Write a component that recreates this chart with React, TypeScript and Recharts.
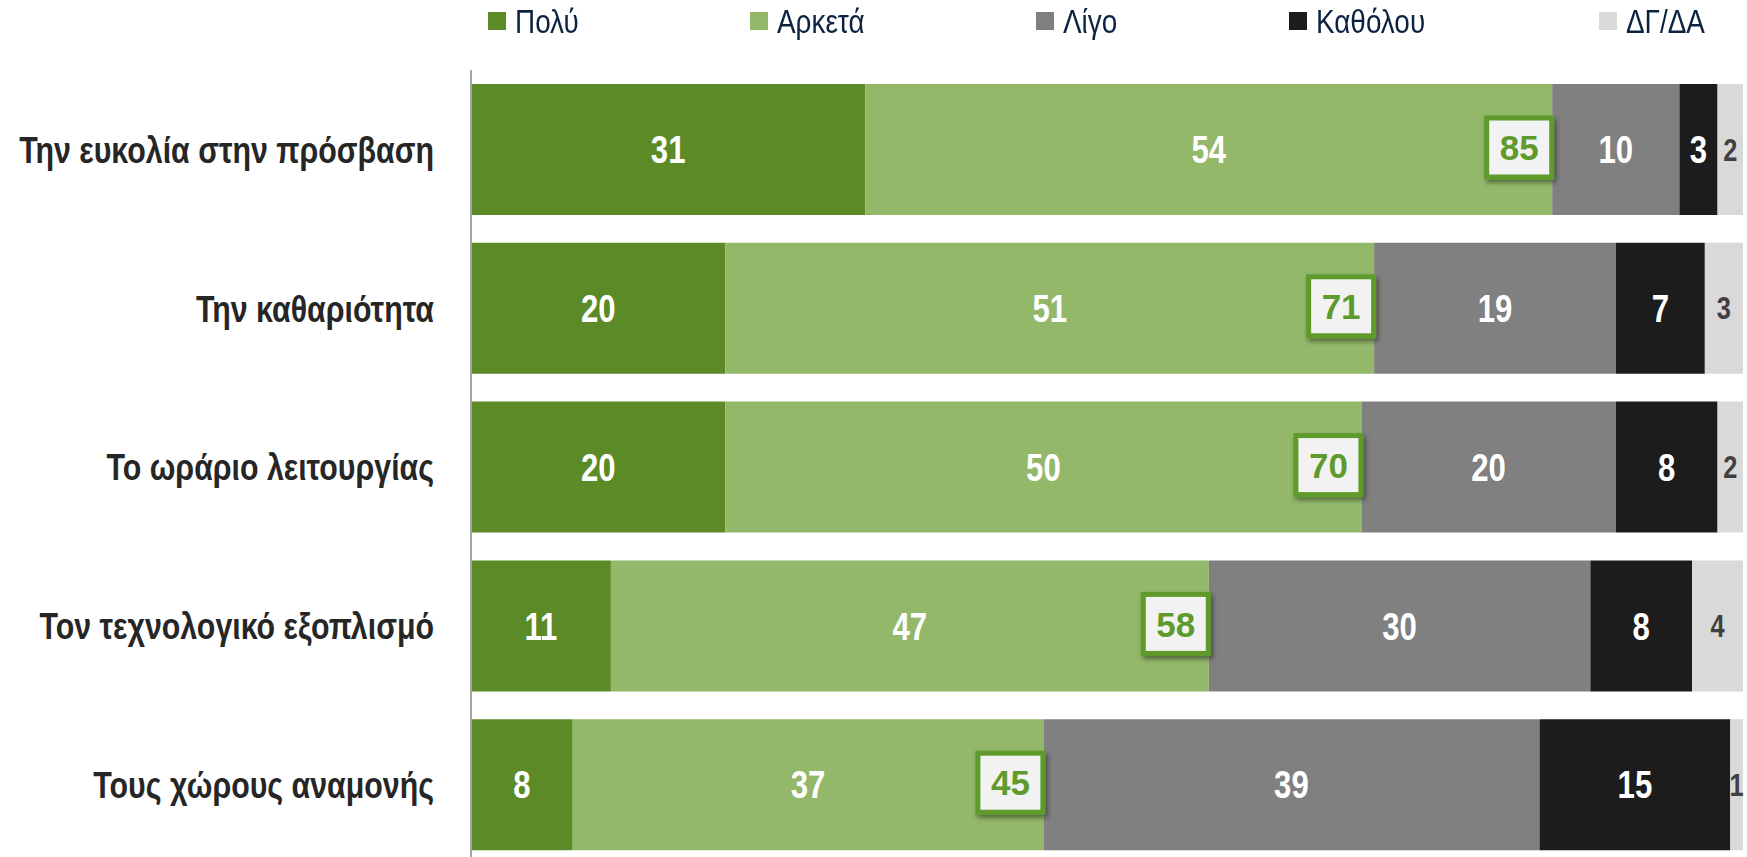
import React from 'react';
import { BarChart, Bar, XAxis, YAxis, Legend, LabelList } from 'recharts';

const categories = [
  'Την ευκολία στην πρόσβαση',
  'Την καθαριότητα',
  'Το ωράριο λειτουργίας',
  'Τον τεχνολογικό εξοπλισμό',
  'Τους χώρους αναμονής',
];
const poly = [31, 20, 20, 11, 8];
const arketa = [54, 51, 50, 47, 37];
const ligo = [10, 19, 20, 30, 39];
const katholou = [3, 7, 8, 8, 15];
const dgda = [2, 3, 2, 4, 1];
// Πολύ + Αρκετά, shown in the framed box
const total = [85, 71, 70, 58, 45];

const data = categories.map((name, i) => ({
  name,
  poly: poly[i],
  arketa: arketa[i],
  ligo: ligo[i],
  katholou: katholou[i],
  dgda: dgda[i],
  total: total[i],
}));

const series = [
  { key: 'poly', name: 'Πολύ', color: '#5b8a27', text: '#ffffff', size: 38 },
  { key: 'arketa', name: 'Αρκετά', color: '#93b86a', text: '#ffffff', size: 38 },
  { key: 'ligo', name: 'Λίγο', color: '#808080', text: '#ffffff', size: 38 },
  { key: 'katholou', name: 'Καθόλου', color: '#1c1c1c', text: '#ffffff', size: 38 },
  { key: 'dgda', name: 'ΔΓ/ΔΑ', color: '#d9d9d9', text: '#404040', size: 31 },
];

// legend entries are not evenly spaced in the original
const legendLeft = [488, 750, 1036, 1289, 1599];

const FONT = "'Liberation Sans', Arial, sans-serif";
const NARROW = 0.82; // horizontal squeeze to mimic Arial Narrow
const BOX_GREEN = '#5f9b2c';

const CategoryTick = (props: any) => {
  const { x, y, payload } = props;
  return (
    <text
      transform={`translate(${x},${y}) scale(${NARROW},1)`}
      dy="0.36em"
      textAnchor="end"
      fontFamily={FONT}
      fontWeight="bold"
      fontSize={37}
      fill="#262626"
    >
      {payload.value}
    </text>
  );
};

const SegmentLabel = (props: any) => {
  const { x, y, width, height, value, color, size } = props;
  const cx = Number(x) + Number(width) / 2;
  const cy = Number(y) + Number(height) / 2;
  return (
    <text
      transform={`translate(${cx},${cy}) scale(${NARROW},1)`}
      dy="0.36em"
      textAnchor="middle"
      fontFamily={FONT}
      fontWeight="bold"
      fontSize={size}
      fill={color}
    >
      {value}
    </text>
  );
};

const TotalBox = (props: any) => {
  const { x, y, width, height, value, index } = props;
  const bw = 70;
  const bh = 64;
  const right = Number(x) + Number(width) + 2;
  const cy = Number(y) + Number(height) / 2 - 2;
  const id = `shadow-${index}`;
  return (
    <g>
      <defs>
        <filter id={id} x="-20%" y="-20%" width="150%" height="150%">
          <feDropShadow dx="2" dy="3" stdDeviation="2.5" floodColor="#000" floodOpacity="0.45" />
        </filter>
      </defs>
      <rect
        x={right - bw + 2.5}
        y={cy - bh / 2 + 2.5}
        width={bw - 5}
        height={bh - 5}
        fill="#f2f2f2"
        stroke={BOX_GREEN}
        strokeWidth={5}
        filter={`url(#${id})`}
      />
      <text x={right - bw / 2} y={cy} dy="0.36em" textAnchor="middle" fontFamily={FONT} fontWeight="bold" fontSize={35} fill={BOX_GREEN}>
        {value}
      </text>
    </g>
  );
};

const LegendContent = () => (
  <div style={{ position: 'relative', height: 42, width: 1747 }}>
    {series.map((s, i) => (
      <div
        key={s.key}
        style={{ position: 'absolute', left: legendLeft[i], top: 0, height: 42, display: 'flex', alignItems: 'center', whiteSpace: 'nowrap' }}
      >
        <span style={{ display: 'inline-block', width: 18, height: 18, background: s.color, marginRight: 9 }} />
        <span
          style={{
            display: 'inline-block',
            fontFamily: FONT,
            fontSize: 34,
            color: '#0b2340',
            lineHeight: '42px',
            transform: `scaleX(${NARROW})`,
            transformOrigin: 'left center',
          }}
        >
          {s.name}
        </span>
      </div>
    ))}
  </div>
);

export default function App() {
  return (
    <div style={{ position: 'fixed', top: 0, left: 0, width: 1747, height: 857, overflow: 'hidden', background: '#fff' }}>
      <BarChart
        width={1747}
        height={864}
        data={data}
        layout="vertical"
        margin={{ top: 28, right: 4, bottom: 0, left: 0 }}
      >
        <Legend
          verticalAlign="top"
          align="left"
          content={<LegendContent />}
          wrapperStyle={{ top: 0, left: 0, width: 1747, height: 42 }}
        />
        <XAxis type="number" domain={[0, 100]} hide />
        <YAxis
          type="category"
          dataKey="name"
          width={471}
          axisLine={{ stroke: '#a6a6a6', strokeWidth: 2 }}
          tickLine={false}
          tickSize={0}
          tickMargin={37}
          tick={<CategoryTick />}
        />
        {series.map((s) => (
          <Bar key={s.key} dataKey={s.key} name={s.name} stackId="a" fill={s.color} barSize={131} isAnimationActive={false}>
            <LabelList dataKey={s.key} content={(p: any) => <SegmentLabel {...p} color={s.text} size={s.size} />} />
            {s.key === 'arketa' && <LabelList dataKey="total" content={<TotalBox />} />}
          </Bar>
        ))}
      </BarChart>
    </div>
  );
}
